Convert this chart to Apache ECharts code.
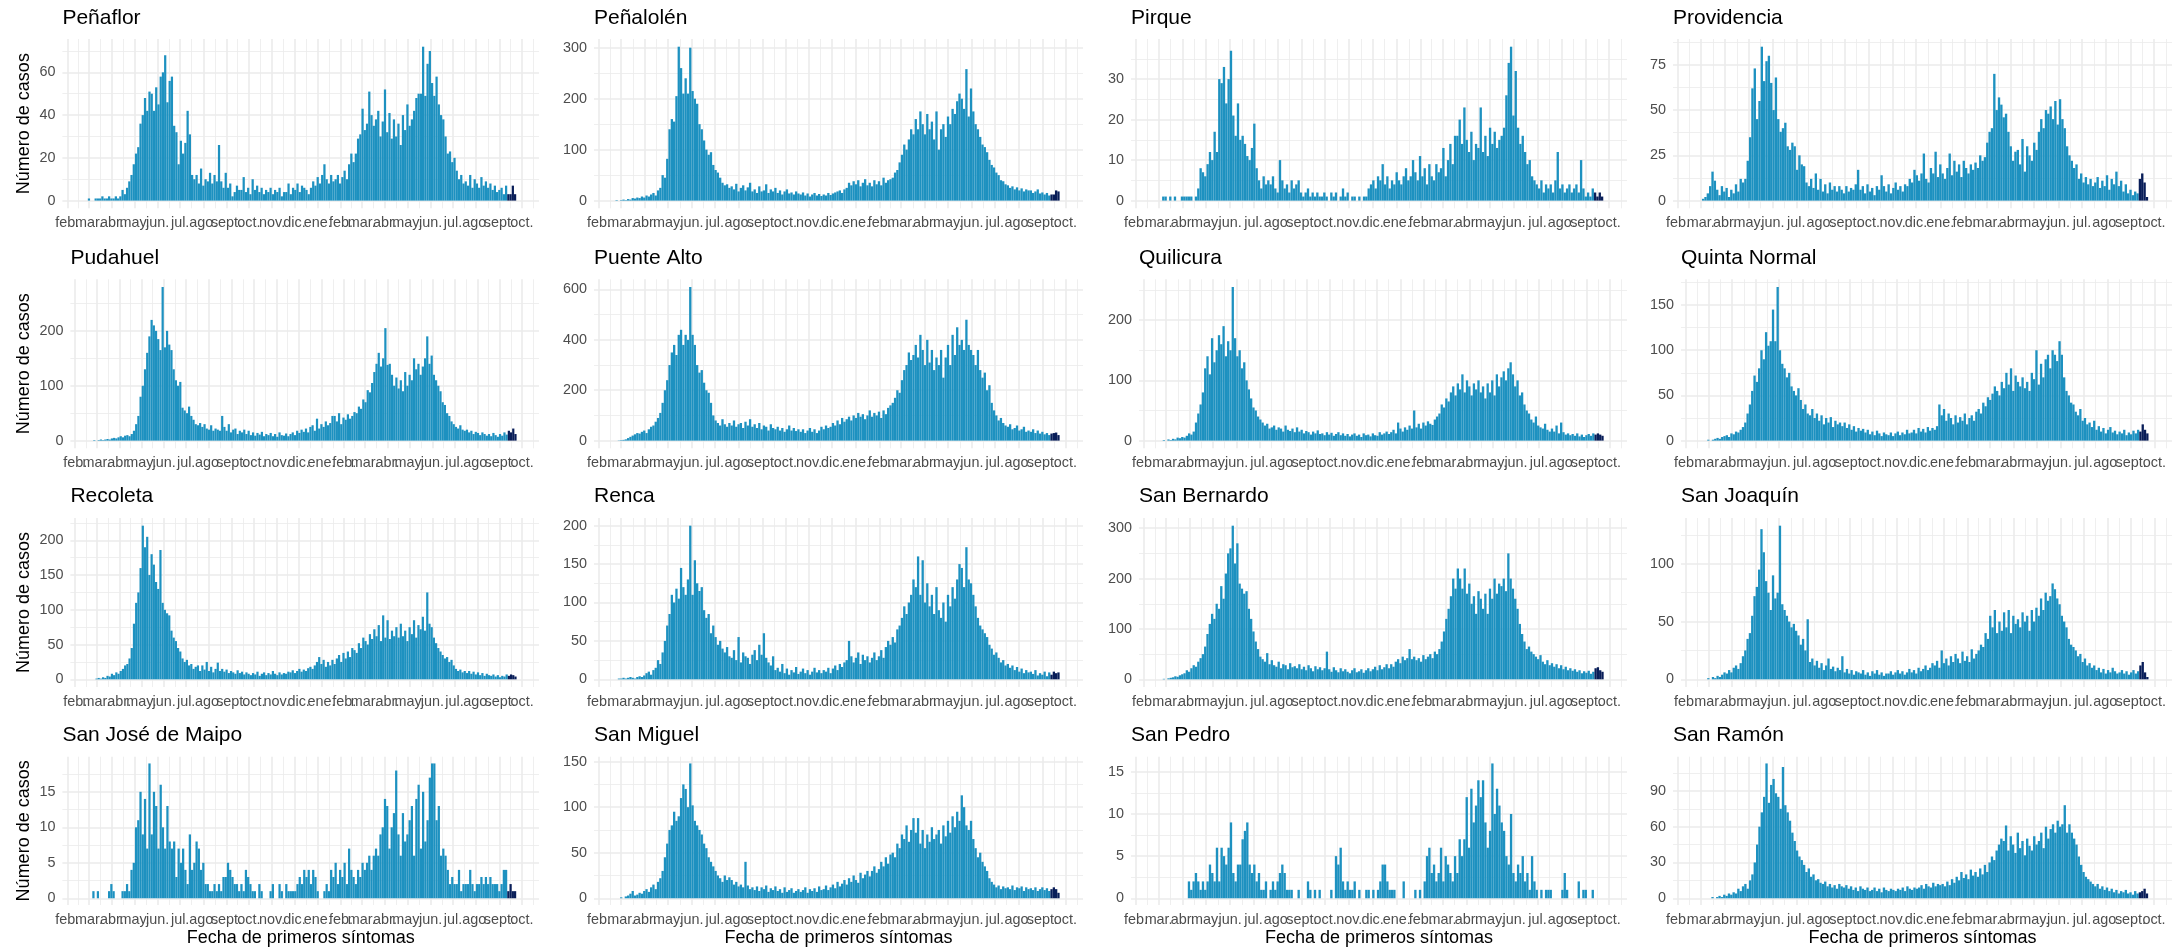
<!DOCTYPE html>
<html><head><meta charset="utf-8">
<script src="https://cdn.jsdelivr.net/npm/echarts@6/dist/echarts.min.js"></script>
<style>html,body{margin:0;padding:0;background:#fff}#c{width:2184px;height:951px}</style>
</head><body><div id="c"></div>
<script>
// ---------- time frame ----------
const ORIGIN = '2020-02-01';          // first month break
const FIRST_BIN = '2020-02-23';       // first day of the first 3-day bin
const BIN_DAYS = 3;                   // each value = typical daily count over a 3-day window
const RECENT_FROM = '2021-09-12';     // most recent (incomplete) days, shown dark
const monthStarts = ['2020-02-01','2020-03-01','2020-04-01','2020-05-01','2020-06-01','2020-07-01','2020-08-01','2020-09-01','2020-10-01','2020-11-01','2020-12-01','2021-01-01','2021-02-01','2021-03-01','2021-04-01','2021-05-01','2021-06-01','2021-07-01','2021-08-01','2021-09-01','2021-10-01'];
const monthLabels = ['feb.','mar.','abr.','may.','jun.','jul.','ago.','sept.','oct.','nov.','dic.','ene.','feb.','mar.','abr.','may.','jun.','jul.','ago.','sept.','oct.'];
const outerMonthStarts = ['2020-01-01','2021-11-01'];

const communes = ['Peñaflor','Peñalolén','Pirque','Providencia','Pudahuel','Puente Alto','Quilicura','Quinta Normal','Recoleta','Renca','San Bernardo','San Joaquín','San José de Maipo','San Miguel','San Pedro','San Ramón'];

const yBreaks = [[0,20,40,60],[0,100,200,300],[0,10,20,30],[0,25,50,75],[0,100,200],[0,200,400,600],[0,100,200],[0,50,100,150],[0,50,100,150,200],[0,50,100,150,200],[0,100,200,300],[0,50,100],[0,5,10,15],[0,50,100,150],[0,5,10,15],[0,30,60,90]];

// ---------- cases (3-day bins from 2020-02-23) ----------
const penaflor = [
0,0,1,0,0,1,1,1,2,1,
1,2,1,1,2,1,2,5,3,6,
9,12,17,22,25,36,40,48,42,51,
50,42,53,45,58,60,68,46,56,58,
35,32,17,28,22,27,42,31,12,10,
12,8,15,7,10,9,13,8,12,9,
26,9,6,13,6,8,2,4,7,5,
5,11,4,6,3,10,5,7,4,6,
3,5,4,6,3,5,4,6,2,4,
4,8,3,6,5,8,4,7,6,5,
3,6,9,7,11,8,12,17,10,8,
12,9,10,12,8,11,14,10,17,22,
18,22,29,31,43,33,36,51,40,35,
38,42,30,37,52,32,41,29,38,30,
36,26,40,33,45,35,38,42,48,50,
50,72,49,64,70,55,49,58,45,40,
38,30,22,23,18,20,14,10,12,8,
9,7,12,6,10,8,6,11,7,9,
6,8,5,7,4,5,6,3,7,3,
3,7,3];
const penalolen = [
1,0,1,2,1,3,2,5,4,6,
5,8,6,10,8,12,15,10,20,25,
50,45,82,140,160,155,205,302,260,210,
240,210,300,215,200,190,150,140,118,100,
90,95,70,60,55,45,35,30,32,25,
28,22,33,18,25,30,20,26,35,18,
22,15,28,18,20,32,15,22,18,25,
15,20,12,18,22,14,16,12,18,14,
12,16,10,14,8,12,15,10,13,9,
12,10,15,11,14,16,18,20,15,22,
25,35,30,38,32,40,28,35,42,30,
35,28,40,32,38,30,45,35,40,42,
45,55,60,75,90,110,100,120,140,130,
160,140,175,150,130,170,140,155,120,175,
100,140,150,125,165,150,180,170,195,210,
200,180,258,165,220,175,150,140,125,110,
105,95,80,70,65,55,50,40,38,32,
30,25,28,22,26,20,24,18,22,20,
20,15,18,22,14,16,12,15,10,12,
12,20,18];
const pirque = [
0,0,0,0,1,1,0,1,0,1,
0,0,1,1,1,1,1,0,1,3,
8,7,6,9,12,10,17,12,30,29,
33,24,30,37,21,16,24,15,16,14,
11,10,13,19,8,5,3,6,4,5,
4,6,3,2,10,5,3,4,2,5,
3,4,5,2,1,2,3,1,2,1,
2,1,1,2,1,0,2,1,2,0,
1,3,1,2,0,1,1,0,1,0,
1,1,3,4,5,3,6,5,9,4,
6,3,5,4,7,5,4,6,8,5,
6,10,7,5,11,6,8,4,9,6,
5,9,7,8,13,6,10,14,9,16,
16,20,14,23,15,12,17,10,14,13,
23,12,16,11,18,14,17,13,15,16,
18,26,34,38,21,32,18,14,16,12,
9,10,6,5,4,3,5,2,4,3,
4,2,5,12,3,4,2,3,4,2,
3,4,2,10,3,1,2,1,3,2,
1,2,1];
const providencia = [
0,0,0,1,2,4,8,16,11,6,
3,8,5,7,2,6,4,9,5,12,
10,12,22,35,62,73,45,55,85,66,
77,80,65,50,68,45,38,40,43,30,
28,32,30,17,25,20,19,10,8,12,
7,15,6,12,5,9,4,10,6,8,
5,8,6,4,8,5,7,6,9,17,
6,8,4,9,5,7,3,8,6,14,
8,5,9,4,7,10,6,8,5,9,
8,12,10,17,14,11,15,26,12,10,
18,15,27,13,20,15,12,18,26,14,
22,16,20,13,22,18,15,20,17,21,
18,25,22,24,32,38,40,70,50,57,
53,46,48,38,30,22,27,28,20,34,
16,30,25,22,32,28,38,45,40,50,
48,52,45,55,42,56,45,40,30,25,
22,18,20,12,15,10,13,9,12,8,
10,13,7,11,8,14,6,12,9,16,
8,11,5,9,4,6,3,5,4,12,
15,10,2];
const pudahuel = [
0,1,0,1,2,1,2,3,2,4,
5,4,6,8,6,9,10,8,12,18,
30,45,80,100,130,160,190,220,210,200,
185,165,280,170,200,175,165,130,110,100,
107,60,55,50,62,45,38,30,28,32,
25,30,22,20,28,18,22,20,18,45,
25,18,30,15,20,22,12,18,15,20,
12,18,10,15,9,14,11,16,8,12,
10,14,8,12,7,15,10,9,13,8,
12,15,10,18,14,20,16,22,15,25,
28,18,40,22,30,25,35,28,32,45,
45,35,50,30,42,38,48,40,45,52,
50,62,58,75,70,92,88,105,125,140,
160,135,150,205,138,140,120,100,115,95,
110,90,125,100,120,110,150,130,140,120,
135,150,190,140,155,120,110,100,90,70,
65,50,45,35,30,25,22,28,20,18,
20,15,18,12,16,14,10,15,12,9,
12,8,14,10,7,12,9,15,11,18,
15,22,12];
const puenteAlto = [
0,1,2,3,5,10,15,20,25,30,
28,35,40,30,45,55,60,75,90,110,
150,200,240,300,350,380,340,420,440,380,
420,400,610,420,380,300,270,280,230,200,
190,150,100,80,70,60,85,65,55,70,
60,80,55,65,70,50,75,60,85,55,
65,50,70,45,60,55,40,65,50,45,
55,40,50,35,45,60,40,50,38,45,
35,45,30,40,50,35,45,30,40,55,
45,60,50,55,70,60,80,65,90,75,
85,95,80,100,90,110,95,105,85,100,
120,95,110,100,115,90,120,105,130,140,
150,170,200,190,240,280,300,350,320,340,
380,330,420,360,300,400,310,360,280,330,
300,360,250,330,380,300,420,340,450,380,
400,360,480,380,360,340,300,360,280,250,
270,200,220,150,120,100,80,90,70,60,
55,65,45,50,60,40,45,55,35,40,
35,45,30,40,28,35,25,30,22,28,
30,32,22];
const quilicura = [
0,1,0,2,1,3,2,5,4,6,
5,8,12,10,15,30,45,60,80,120,
140,110,170,130,150,175,160,190,140,165,
150,255,170,140,150,120,130,100,85,70,
55,50,40,35,30,25,28,20,22,25,
18,22,20,15,25,18,16,20,14,22,
15,18,12,16,14,10,15,12,17,11,
12,9,14,10,13,8,11,14,9,12,
8,11,7,10,12,8,10,6,12,9,
10,7,12,9,8,14,10,12,15,11,
14,18,12,30,20,15,22,18,25,20,
50,22,28,20,30,25,32,28,26,35,
40,45,60,55,70,65,80,90,75,95,
85,110,80,100,90,75,95,85,100,80,
90,70,95,80,100,75,110,90,105,115,
100,120,130,110,90,100,75,80,60,50,
45,35,30,40,25,22,20,28,18,15,
20,15,25,12,30,14,10,12,9,11,
8,12,7,10,6,9,11,8,12,10,
12,10,8];
const quintaNormal = [
0,0,1,0,1,2,3,2,4,5,
6,4,8,7,10,9,12,15,20,30,
40,55,72,65,80,100,90,120,105,110,
145,110,170,100,85,80,70,75,60,55,
50,58,45,35,40,30,28,35,25,30,
22,28,18,25,20,26,15,22,18,20,
16,20,14,18,12,16,10,14,11,13,
9,12,7,10,6,11,8,5,9,7,
6,9,5,8,10,6,9,7,12,8,
9,12,8,14,10,13,9,15,11,14,
12,16,40,28,35,22,30,25,18,28,
20,26,22,30,18,25,28,22,32,35,
30,42,38,48,45,52,60,55,50,65,
58,75,62,80,55,72,65,60,70,58,
65,55,75,68,100,62,85,70,90,95,
80,100,95,88,110,95,70,55,50,42,
40,32,28,35,22,25,18,20,15,22,
12,16,10,14,8,12,15,9,11,7,
10,8,12,6,9,7,11,8,12,10,
18,12,8];
const recoleta = [
0,0,1,2,1,3,2,5,4,8,
6,10,8,12,15,20,22,30,45,80,
110,125,160,221,190,205,150,180,165,140,
130,186,110,100,95,92,70,60,55,45,
40,30,25,28,20,22,15,18,20,12,
20,14,25,12,18,10,15,24,12,15,
11,14,9,12,10,8,13,9,11,7,
10,8,6,9,7,11,5,8,10,6,
9,7,12,8,6,10,7,9,8,11,
10,13,9,12,15,11,14,12,16,18,
15,20,25,32,22,28,18,25,20,28,
22,30,35,25,38,30,40,32,45,42,
38,52,45,60,55,50,65,58,72,62,
78,55,92,60,85,58,70,62,75,60,
80,62,70,55,75,65,85,60,78,72,
90,70,125,80,75,60,52,45,40,35,
30,32,25,28,20,15,12,14,10,12,
9,12,8,11,7,10,6,9,5,8,
6,5,7,4,6,3,5,4,7,5,
7,6,4];
const renca = [
0,1,1,2,1,2,3,2,1,3,
4,3,5,8,10,6,12,15,25,20,
35,50,70,85,110,100,118,105,145,120,
110,130,200,110,155,125,115,120,90,80,
85,60,70,55,45,50,40,35,42,30,
28,38,25,55,22,35,30,28,20,32,
38,25,45,32,60,28,22,18,30,12,
15,10,20,8,14,6,12,9,16,7,
10,14,8,12,6,10,15,9,12,8,
12,10,15,8,14,18,12,20,16,22,
25,50,30,22,28,35,20,32,25,30,
22,28,35,25,30,38,28,42,50,45,
55,48,65,70,80,95,85,100,110,130,
120,160,110,155,100,125,95,110,85,120,
90,80,100,75,110,95,120,105,130,150,
145,120,172,130,125,110,95,80,70,65,
60,55,45,40,32,35,28,22,25,18,
20,15,18,12,16,10,14,8,12,9,
10,7,12,5,8,6,10,4,9,6,
10,8,9];
const sanBernardo = [
0,1,0,2,3,4,6,5,8,10,
12,18,15,22,28,25,35,42,50,65,
90,110,130,120,150,140,185,160,210,250,
260,305,230,270,190,180,170,175,140,120,
95,75,60,45,40,35,52,30,38,28,
25,35,22,30,28,20,32,24,26,22,
30,20,25,18,28,22,16,26,20,24,
18,22,55,20,15,24,18,14,22,16,
20,15,12,18,22,14,16,20,13,18,
22,16,20,25,18,28,20,24,30,22,
30,25,35,40,32,45,38,42,60,40,
45,38,42,35,48,40,45,50,42,55,
50,60,75,95,120,140,165,200,180,220,
200,180,220,170,190,150,165,130,175,160,
140,170,130,180,160,200,170,190,185,200,
175,250,200,180,160,140,110,90,75,60,
65,55,50,45,40,48,35,30,38,28,
32,25,30,22,28,20,25,18,22,17,
20,15,18,12,16,13,17,11,15,22,
24,18,15];
const sanJoaquin = [
0,0,1,0,2,1,3,2,4,6,
5,8,6,10,12,9,14,20,25,35,
40,55,72,80,95,130,110,85,75,60,
90,70,75,133,65,60,55,50,45,48,
42,38,30,35,25,52,15,18,12,16,
10,14,8,12,18,9,11,7,10,8,
20,6,9,5,8,4,7,6,5,8,
4,6,3,7,5,8,4,6,3,5,
5,7,4,6,8,5,7,4,6,9,
6,8,5,10,7,9,12,8,10,14,
12,16,10,25,14,18,12,20,15,22,
18,14,24,16,20,15,26,18,22,25,
30,28,40,35,55,45,60,40,50,42,
58,45,60,40,55,48,52,45,58,50,
55,42,60,50,62,55,70,60,75,68,
72,83,78,70,65,55,50,45,35,30,
28,25,20,22,15,18,12,14,10,12,
8,10,6,9,5,8,6,10,7,5,
6,8,5,7,4,6,8,5,7,12,
15,6,2];
const sanJoseDeMaipo = [
0,0,0,0,1,0,1,0,0,0,
0,1,2,1,0,0,0,1,1,2,
1,4,5,10,11,15,9,14,7,19,
9,15,13,7,16,10,7,13,8,7,
8,3,7,5,7,4,2,9,4,5,
8,7,4,5,2,2,1,1,2,1,
2,1,3,3,5,4,3,2,2,1,
2,1,4,3,2,1,1,0,2,1,
0,0,0,1,2,0,0,2,1,0,
2,1,1,1,1,2,3,2,4,3,
4,2,4,3,1,0,0,1,2,1,
4,3,5,2,4,3,5,2,7,4,
3,2,4,3,5,4,5,6,4,6,
7,6,9,10,14,13,7,10,12,18,
9,6,12,8,9,11,13,6,14,16,
7,15,8,11,17,19,19,11,13,6,
7,6,4,2,3,2,2,4,1,2,
2,2,4,2,1,2,2,3,2,3,
2,3,2,2,2,1,2,4,4,1,
2,1,1];
const sanMiguel = [
0,0,1,0,2,3,5,8,3,4,
6,5,8,10,7,12,15,10,18,22,
30,45,60,75,80,95,85,90,110,125,
120,100,148,102,85,80,75,70,60,55,
45,40,35,30,25,22,18,25,20,23,
20,15,18,13,15,12,40,14,10,12,
9,13,8,12,10,14,7,11,9,13,
8,10,6,12,7,9,11,6,8,10,
7,9,12,6,10,8,11,7,13,9,
10,14,9,12,15,11,18,13,16,20,
15,22,18,25,20,17,28,22,26,30,
24,30,35,28,32,40,35,45,38,48,
50,45,60,55,70,65,80,62,75,88,
72,88,60,75,55,70,62,78,65,70,
75,60,80,68,85,72,90,78,95,85,
113,100,80,75,85,65,55,45,50,40,
35,30,22,18,15,12,14,10,13,11,
12,10,14,9,12,11,13,8,12,10,
11,9,12,8,10,12,9,11,8,10,
12,10,6];
const sanPedro = [
0,0,0,0,0,0,0,0,0,0,
0,0,0,0,0,2,1,2,3,2,
1,2,1,2,4,3,2,6,2,6,
5,4,6,9,3,2,4,4,7,8,
9,4,3,4,2,3,1,1,2,0,
1,2,1,2,3,4,3,1,1,1,
0,0,1,0,0,0,2,1,0,1,
0,1,0,0,0,0,1,0,5,4,
6,2,1,2,1,1,2,0,1,0,
0,1,1,0,1,0,1,2,4,4,
2,1,1,1,0,0,0,2,0,0,
0,0,1,0,1,0,2,5,6,3,
4,2,3,6,2,5,4,3,2,5,
3,7,5,7,12,6,13,9,11,14,
12,14,9,6,8,16,10,13,11,9,
8,5,4,10,3,2,4,3,5,2,
3,1,5,2,1,0,1,0,1,1,
1,0,0,0,0,1,3,1,0,0,
0,0,2,0,1,1,0,0,1,0,
0,0,0];
const sanRamon = [
0,0,0,0,0,0,0,1,0,1,
2,1,3,2,4,3,5,4,8,6,
10,12,8,15,20,30,45,60,72,85,
113,80,95,100,88,85,75,110,78,72,
65,55,48,40,35,32,28,22,25,18,
20,15,16,13,12,14,10,12,9,11,
8,12,10,9,11,8,10,7,9,6,
10,8,7,9,6,7,9,6,8,5,
9,7,6,8,7,6,8,7,9,6,
10,8,7,9,8,9,11,8,12,10,
9,13,10,12,11,12,10,14,11,16,
13,18,15,22,17,20,16,24,19,22,
18,25,20,28,22,30,35,32,40,45,
50,48,61,40,52,45,38,55,42,48,
36,50,44,40,52,45,48,55,42,60,
50,58,62,55,65,60,62,78,55,62,
55,50,45,35,28,22,18,16,14,12,
10,12,8,10,7,9,6,8,5,7,
4,6,5,7,4,5,3,6,4,5,
6,8,4];

const casesByCommune = [penaflor, penalolen, pirque, providencia, pudahuel, puenteAlto, quilicura, quintaNormal, recoleta, renca, sanBernardo, sanJoaquin, sanJoseDeMaipo, sanMiguel, sanPedro, sanRamon];

// ---------- layout & style ----------
const COL_BASE = [46.4, 570, 1115, 1657];
const COL_RIGHT = [539, 1083, 1627, 2172];
const ROW_TOP = [39, 279.3, 518, 756.7];
const ROW_H = [169.3, 169, 169, 148.3];
const TITLE_Y = [18, 258, 496, 735];
const DIGIT_W = 8;
const X_MIN = -6.5, X_MAX = 631;
const FONT = '"Liberation Sans", Arial, Helvetica, sans-serif';
const BAR_COLOR = '#1d91c0', RECENT_COLOR = '#081d58';
const GRID_COLOR = '#ebebeb', TEXT_GREY = '#4d4d4d';

const DAY_MS = 86400000;
const dayOf = s => (Date.parse(s) - Date.parse(ORIGIN)) / DAY_MS;
const monthDays = monthStarts.map(dayOf);
const evenMonthDays = monthDays.filter((d, j) => j % 2 === 0);
const oddMonthDays = monthDays.filter((d, j) => j % 2 === 1);
const allBreakDays = [dayOf(outerMonthStarts[0])].concat(monthDays, [dayOf(outerMonthStarts[1])]);
const midDays = [];
for (let j = 0; j < allBreakDays.length - 1; j++) {
  const m = (allBreakDays[j] + allBreakDays[j + 1]) / 2;
  if (m > X_MIN && m < X_MAX) midDays.push(m);
}
const firstBinDay = dayOf(FIRST_BIN);
const recentDay = dayOf(RECENT_FROM);
const monthLabelOf = v => { const j = monthDays.indexOf(v); return j >= 0 ? monthLabels[j] : ''; };

const grids = [], xAxes = [], yAxes = [], series = [], graphics = [];
const labelStyle = {color: TEXT_GREY, fontSize: 14.4, fontFamily: FONT};

communes.forEach((name, k) => {
  const row = Math.floor(k / 4), col = k % 4;
  const vals = casesByCommune[k];
  const br = yBreaks[k];
  const M = Math.max(...vals);
  const yMin = -0.05 * M, yMax = 1.05 * M;
  const step = br[1] - br[0];
  const minor = [];
  for (let v = br[0] + step / 2; v < yMax; v += step) if (v > yMin) minor.push(v);
  const digits = String(br[br.length - 1]).length;
  const left = COL_BASE[col] + DIGIT_W * digits;
  const width = COL_RIGHT[col] - left;
  const top = ROW_TOP[row], height = ROW_H[row];
  grids.push({left, top, width, height, containLabel: false, outerBoundsMode: 'none'});

  const xBase = {gridIndex: k, type: 'value', min: X_MIN, max: X_MAX, axisLine: {show: false, onZero: false}};
  // month breaks (even months labelled here) + major vertical grid
  xAxes.push(Object.assign({}, xBase, {
    position: 'bottom',
    axisTick: {show: false, customValues: monthDays},
    axisLabel: Object.assign({customValues: evenMonthDays, hideOverlap: false, showMinLabel: true, showMaxLabel: true,
      margin: 8, formatter: monthLabelOf}, labelStyle),
    splitLine: {show: true, lineStyle: {color: GRID_COLOR, width: 1.6}}
  }));
  // odd months labels (separate axis so that overlapping labels are all kept)
  xAxes.push(Object.assign({}, xBase, {
    position: 'bottom',
    axisTick: {show: false, customValues: oddMonthDays},
    axisLabel: Object.assign({customValues: oddMonthDays, hideOverlap: false, showMinLabel: true, showMaxLabel: true,
      margin: 8, formatter: monthLabelOf}, labelStyle),
    splitLine: {show: false}
  }));
  // mid-month minor grid
  xAxes.push(Object.assign({}, xBase, {
    position: 'top',
    axisTick: {show: false, customValues: midDays},
    axisLabel: {show: false},
    splitLine: {show: true, lineStyle: {color: GRID_COLOR, width: 0.8}}
  }));
  const yBase = {gridIndex: k, type: 'value', min: yMin, max: yMax, axisLine: {show: false}};
  yAxes.push(Object.assign({}, yBase, {
    position: 'left',
    axisTick: {show: false, customValues: br},
    axisLabel: Object.assign({customValues: br, showMinLabel: true, showMaxLabel: true, hideOverlap: false, margin: 7}, labelStyle),
    splitLine: {show: true, lineStyle: {color: GRID_COLOR, width: 1.6}}
  }));
  yAxes.push(Object.assign({}, yBase, {
    position: 'right',
    axisTick: {show: false, customValues: minor},
    axisLabel: {show: false},
    splitLine: {show: true, lineStyle: {color: GRID_COLOR, width: 0.8}}
  }));

  const pxPerDay = width / (X_MAX - X_MIN);
  series.push({
    type: 'bar', name, xAxisIndex: 3 * k, yAxisIndex: 2 * k, silent: true,
    barWidth: BIN_DAYS * pxPerDay,
    itemStyle: {color: BAR_COLOR},
    data: vals.map((v, i) => {
      const d = firstBinDay + BIN_DAYS * i + (BIN_DAYS - 1) / 2;
      const item = {value: [d, v]};
      if (d >= recentDay) item.itemStyle = {color: RECENT_COLOR};
      return item;
    })
  });

  graphics.push({type: 'text', x: left, y: TITLE_Y[row], silent: true,
    style: {text: name, font: '21px ' + FONT, fill: '#000', align: 'left', verticalAlign: 'middle', textAlign: 'left', textVerticalAlign: 'middle'}});
  if (col === 0) {
    graphics.push({type: 'text', x: 24, y: top + height / 2, rotation: Math.PI / 2, silent: true,
      style: {text: 'Número de casos', font: '18px ' + FONT, fill: '#000', align: 'center', verticalAlign: 'middle', textAlign: 'center', textVerticalAlign: 'middle'}});
  }
  if (row === 3) {
    graphics.push({type: 'text', x: left + width / 2, y: 938, silent: true,
      style: {text: 'Fecha de primeros síntomas', font: '18px ' + FONT, fill: '#000', align: 'center', verticalAlign: 'middle', textAlign: 'center', textVerticalAlign: 'middle'}});
  }
});

const chart = echarts.init(document.getElementById('c'), null, {renderer: 'canvas'});
chart.setOption({
  animation: false,
  backgroundColor: '#fff',
  grid: grids, xAxis: xAxes, yAxis: yAxes, series,
  graphic: {elements: graphics}
});
</script>
</body></html>
